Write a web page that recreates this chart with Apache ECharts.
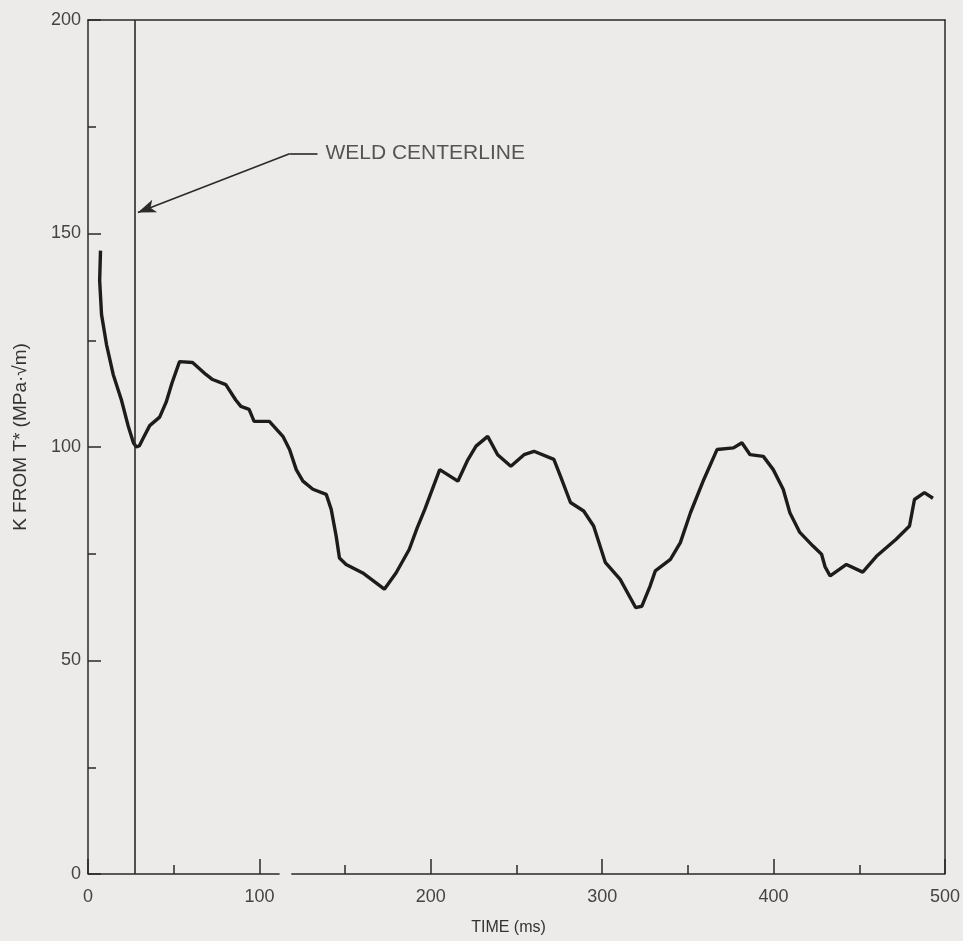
<!DOCTYPE html>
<html>
<head>
<meta charset="utf-8">
<script src="https://cdn.jsdelivr.net/npm/echarts@6/dist/echarts.min.js"></script>
<style>
  html,body{margin:0;padding:0;background:#ecebe9;}
  #main{width:963px;height:941px;}
</style>
</head>
<body>
<div id="main"></div>
<script>
// time (ms) and K values
var TIME = [7.3, 6.8, 7.9, 10.8, 14.7, 19.5, 23.4, 26.5, 28.2, 30, 32.1, 36, 41.8, 45.6, 49, 53.4,
    61, 68.8, 72.7, 80.4, 86.2, 89.2, 94, 96.9, 105.8, 113.7, 117.6, 121.5, 125.4, 131.2, 139,
    141.9, 144.8, 146.7, 150.6, 160.3, 172.9, 179.7, 187.4, 192, 196.5, 205.2, 215.8, 221.6,
    226.4, 233.2, 239, 246.7, 254.4, 260.2, 271.8, 275.7, 281.5, 289.2, 295, 301.8, 310.5,
    319.5, 323.1, 328, 331, 339.8, 345.6, 351.5, 359.3, 367, 376.6, 381.5, 386.3, 394, 399.8,
    405.6, 409.5, 415.3, 423, 428, 430, 433, 442.5, 452, 460, 471.5, 479.3, 482.2, 488, 493];
var K = [146, 139, 131, 124, 117, 111, 105, 101, 100, 100.3, 102, 105, 107, 110.5, 115, 120,
    119.8, 117, 115.8, 114.6, 111, 109.5, 108.8, 106, 106, 102.5, 99.4, 94.7, 92, 90.1, 88.9,
    85.4, 79.1, 74, 72.5, 70.5, 66.7, 70.5, 76, 81, 85.4, 94.7, 92, 97, 100.2, 102.5, 98.2,
    95.5, 98.2, 99, 97.1, 93.1, 87, 85, 81.5, 73, 69, 62.4, 62.7, 67.5, 71, 73.7, 77.6, 84.6,
    92.4, 99.4, 99.8, 101, 98.2, 97.8, 94.7, 90.1, 84.6, 80, 76.8, 74.9, 72, 69.8, 72.5, 70.7,
    74.4, 78.4, 81.5, 87.7, 89.3, 88];
var X_TICKS = [0, 100, 200, 300, 400, 500];
var Y_TICKS = [0, 50, 100, 150, 200];
var WELD_X = 27.5;
// annotation: arrow tip, elbow, end of leader, text start
var ARROW_TIP = [29.1, 154.9];
var ARROW_ELBOW = [117.6, 168.7];
var LEADER_END = [133.9, 168.7];
var LABEL_AT = [138.5, 168.7];
// bottom axis is drawn broken between these times
var AXIS_GAP = [111.8, 118.6];

var FONT = 'Liberation Sans';
var INK = '#2a2a2a';

var curve = [];
for (var i = 0; i < TIME.length; i++) {
    curve.push([TIME[i], K[i]]);
}
var bottomLine = [[X_TICKS[0], 0], [AXIS_GAP[0], 0], [(AXIS_GAP[0] + AXIS_GAP[1]) / 2, '-'],
    [AXIS_GAP[1], 0], [X_TICKS[X_TICKS.length - 1], 0]];

var chart = echarts.init(document.getElementById('main'));
chart.setOption({
    backgroundColor: '#ecebe9',
    animation: false,
    grid: {left: 88, right: 16, top: 20, bottom: 66},
    xAxis: [
        {
            type: 'value',
            min: X_TICKS[0],
            max: X_TICKS[X_TICKS.length - 1],
            interval: 100,
            name: 'TIME (ms)',
            nameLocation: 'middle',
            nameGap: 46,
            nameTextStyle: {fontFamily: FONT, fontSize: 16, color: '#333', padding: [0, 16, 0, 0]},
            axisLine: {show: false},
            axisTick: {show: true, inside: true, length: 15, lineStyle: {color: INK, width: 1.5}},
            minorTick: {show: true, splitNumber: 2, length: 9, lineStyle: {color: INK, width: 1.5}},
            axisLabel: {fontFamily: FONT, fontSize: 18, color: '#444', margin: 14},
            splitLine: {show: false}
        },
        {
            type: 'value',
            position: 'top',
            min: X_TICKS[0],
            max: X_TICKS[X_TICKS.length - 1],
            axisLine: {show: true, onZero: false, lineStyle: {color: INK, width: 1.5}},
            axisTick: {show: false},
            axisLabel: {show: false},
            splitLine: {show: false}
        }
    ],
    yAxis: [
        {
            type: 'value',
            min: Y_TICKS[0],
            max: Y_TICKS[Y_TICKS.length - 1],
            interval: 50,
            name: 'K FROM T* (MPa·√m)',
            nameLocation: 'middle',
            nameRotate: 90,
            nameGap: 58,
            nameTextStyle: {fontFamily: FONT, fontSize: 19, color: '#333', padding: [0, 0, 0, 20]},
            axisLine: {show: true, onZero: false, lineStyle: {color: INK, width: 1.5}},
            axisTick: {show: true, inside: true, length: 13, lineStyle: {color: INK, width: 1.5}},
            minorTick: {show: true, splitNumber: 2, length: 8, lineStyle: {color: INK, width: 1.5}},
            axisLabel: {fontFamily: FONT, fontSize: 18, color: '#444', margin: 7},
            splitLine: {show: false}
        },
        {
            type: 'value',
            position: 'right',
            min: Y_TICKS[0],
            max: Y_TICKS[Y_TICKS.length - 1],
            axisLine: {show: true, onZero: false, lineStyle: {color: INK, width: 1.5}},
            axisTick: {show: false},
            axisLabel: {show: false},
            splitLine: {show: false}
        }
    ],
    series: [
        {
            name: 'axis',
            type: 'line',
            data: bottomLine,
            symbol: 'none',
            clip: false,
            silent: true,
            connectNulls: false,
            lineStyle: {color: INK, width: 1.5}
        },
        {
            name: 'label',
            type: 'scatter',
            data: [LABEL_AT],
            symbolSize: 0,
            silent: true,
            label: {
                show: true,
                position: 'right',
                distance: 0,
                formatter: 'WELD CENTERLINE',
                fontFamily: FONT,
                fontSize: 21,
                color: '#2e2e2e'
            }
        },
        {
            name: 'K',
            type: 'line',
            data: curve,
            symbol: 'none',
            smooth: false,
            lineStyle: {color: '#1c1c1c', width: 3.4},
            markLine: {
                silent: true,
                animation: false,
                label: {show: false},
                data: [
                    [{coord: [WELD_X, 0], symbol: 'none'}, {coord: [WELD_X, 200], symbol: 'none'}],
                    [{coord: ARROW_ELBOW, symbol: 'none'}, {coord: ARROW_TIP, symbol: 'arrow', symbolSize: [10, 18]}],
                    [{coord: ARROW_ELBOW, symbol: 'none'}, {coord: LEADER_END, symbol: 'none'}]
                ],
                lineStyle: {color: INK, width: 1.6, type: 'solid'}
            }
        }
    ]
});
</script>
</body>
</html>
